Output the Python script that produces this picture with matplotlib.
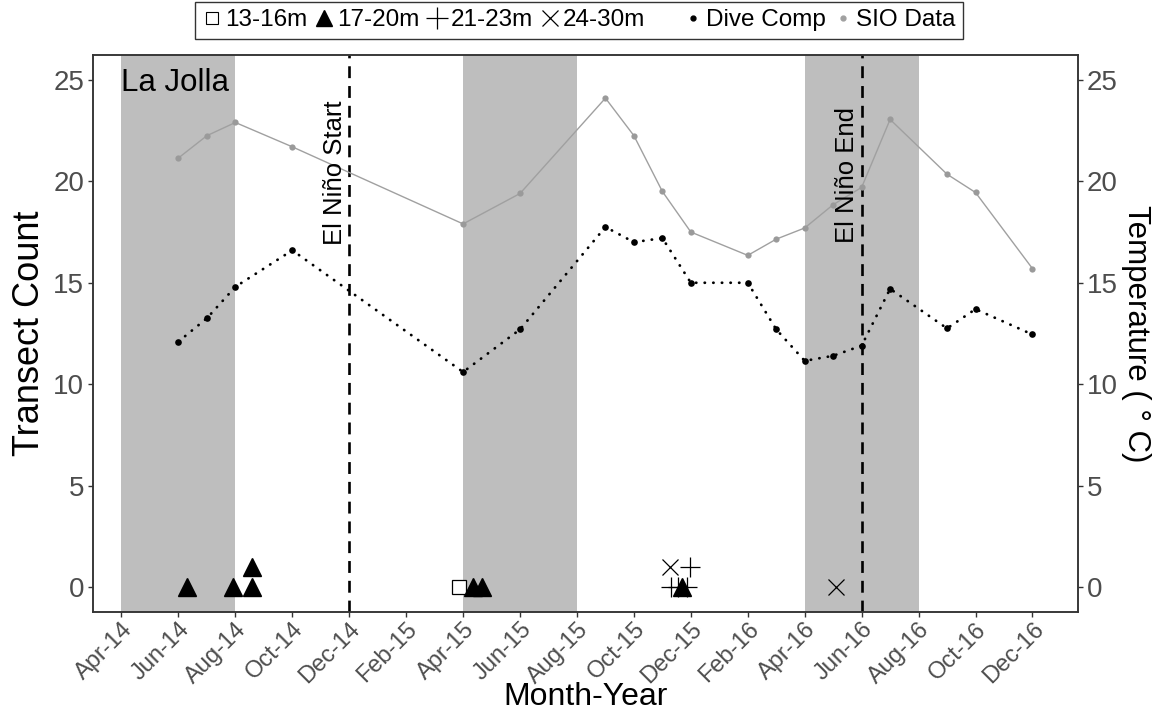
import matplotlib.pyplot as plt
from matplotlib.lines import Line2D

plt.rcParams['font.family'] = ['Liberation Sans', 'DejaVu Sans']


# months counted from Apr 2014
def month_idx(s):
    y, m = s.split('-')
    return (int(y) - 2014) * 12 + int(m) - 4


survey_dates = ['2014-06', '2014-07', '2014-08', '2014-10', '2015-04', '2015-06',
                '2015-09', '2015-10', '2015-11', '2015-12', '2016-02', '2016-03',
                '2016-04', '2016-05', '2016-06', '2016-07', '2016-09', '2016-10',
                '2016-12']
sio_temp = [21.15, 22.25, 22.9, 21.7, 17.9, 19.4, 24.1, 22.25, 19.5, 17.5,
            16.35, 17.15, 17.7, 18.85, 19.7, 23.05, 20.35, 19.45, 15.7]
dive_temp = [12.1, 13.25, 14.8, 16.6, 10.6, 12.7, 17.75, 17.0, 17.2, 15.0,
             15.0, 12.7, 11.15, 11.4, 11.9, 14.7, 12.75, 13.7, 12.45]

# transect sightings (month offset, count) by depth band
d13_16_x = [11.86]
d13_16_y = [0]
d17_20_x = [2.3, 3.9, 4.6, 4.6, 12.35, 12.67, 19.7]
d17_20_y = [0, 0, 0, 1, 0, 0, 0]
d21_23_x = [19.3, 19.55, 19.85, 19.96]
d21_23_y = [0, 0, 0, 1]
d24_30_x = [19.26, 25.1]
d24_30_y = [1, 0]

upwelling = [('2014-04', '2014-08'), ('2015-04', '2015-08'), ('2016-04', '2016-08')]
nino_start = '2014-12'
nino_end = '2016-06'

tick_labels = ['Apr-14', 'Jun-14', 'Aug-14', 'Oct-14', 'Dec-14', 'Feb-15', 'Apr-15',
               'Jun-15', 'Aug-15', 'Oct-15', 'Dec-15', 'Feb-16', 'Apr-16', 'Jun-16',
               'Aug-16', 'Oct-16', 'Dec-16']

xs = [month_idx(d) for d in survey_dates]

fig = plt.figure(figsize=(11.6, 7.17), dpi=100)
ax = fig.add_axes([0.0802, 0.1464, 0.8491, 0.777])

for a, b in upwelling:
    ax.axvspan(month_idx(a), month_idx(b), color='#bebebe', lw=0, zorder=0)

for d in (nino_start, nino_end):
    ax.axvline(month_idx(d), color='black', lw=1.9, ls=(0, (4.5, 3)), zorder=1)

ax.text(month_idx(nino_start) - 0.08, 20.4, 'El Niño Start', rotation=90,
        ha='right', va='center', fontsize=18.5)
ax.text(month_idx(nino_end) - 0.08, 20.3, 'El Niño End', rotation=90,
        ha='right', va='center', fontsize=18.5)
ax.text(0.0, 24.85, 'La Jolla', ha='left', va='center', fontsize=22.5)

# temperature series
ax.plot(xs, sio_temp, color='#a0a0a0', lw=1.0, zorder=2)
ax.plot(xs, sio_temp, 'o', color='#9a9a9a', ms=4.5, mec='none', zorder=3)
ax.plot(xs, dive_temp, color='black', lw=2.0, ls=(0, (0.1, 3.0)),
        dash_capstyle='round', zorder=2)
ax.plot(xs, dive_temp, 'o', color='black', ms=4.8, mec='none', zorder=3)

# transect counts
ax.plot(d13_16_x, d13_16_y, 's', ms=10.5, mfc='white', mec='black', mew=0.9, ls='none', zorder=4)
ax.plot(d17_20_x, d17_20_y, '^', ms=13, color='black', ls='none', zorder=4)
ax.plot(d21_23_x, d21_23_y, '+', ms=14, color='black', mew=0.9, ls='none', zorder=4)
ax.plot(d24_30_x, d24_30_y, 'x', ms=11, color='black', mew=0.9, ls='none', zorder=4)

ax.set_xlim(-1.0, 33.6)
ax.set_ylim(-1.23, 26.23)
ax.set_xticks(range(0, 33, 2))
ax.set_xticklabels(tick_labels, rotation=45, ha='right', rotation_mode='anchor')
ax.set_yticks(range(0, 26, 5))

ax2 = ax.twinx()
ax2.set_ylim(ax.get_ylim())
ax2.set_yticks(range(0, 26, 5))

for a in (ax, ax2):
    a.tick_params(axis='y', labelsize=20, labelcolor='#4d4d4d',
                  color='#333333', length=3.5, width=1, pad=3)
    for s in a.spines.values():
        s.set_color('#333333')
        s.set_linewidth(1.1)
ax.tick_params(axis='x', labelsize=17, labelcolor='#4d4d4d',
               color='#333333', length=3.5, width=1, pad=1)

ax.set_xlabel('Month-Year', fontsize=23, labelpad=-4)
ax.set_ylabel('Transect Count', fontsize=26, labelpad=4)
ax2.set_ylabel('Temperature ( ° C)', fontsize=22.5, rotation=270, labelpad=24)

handles = [
    Line2D([], [], marker='s', ls='none', mfc='white', mec='black', mew=0.8, ms=8.5),
    Line2D([], [], marker='^', ls='none', color='black', ms=11.5),
    Line2D([], [], marker='+', ls='none', color='black', mew=0.9, ms=16),
    Line2D([], [], marker='x', ls='none', color='black', mew=0.9, ms=12),
    Line2D([], [], ls='none'),
    Line2D([], [], marker='o', ls='none', color='black', ms=3.5),
    Line2D([], [], marker='o', ls='none', color='#a0a0a0', ms=3.5),
]
labels = ['13-16m', '17-20m', '21-23m', '24-30m', '', 'Dive Comp', 'SIO Data']
leg = fig.legend(handles, labels, loc='upper center', bbox_to_anchor=(0.499, 0.997),
                 ncol=7, fontsize=17.5, frameon=True, fancybox=False,
                 handlelength=0.8, handletextpad=0.15, columnspacing=0.3,
                 borderpad=0.3, borderaxespad=0)
leg.get_frame().set_edgecolor('black')
leg.get_frame().set_linewidth(1.0)

fig.savefig('out.png', dpi=100)
